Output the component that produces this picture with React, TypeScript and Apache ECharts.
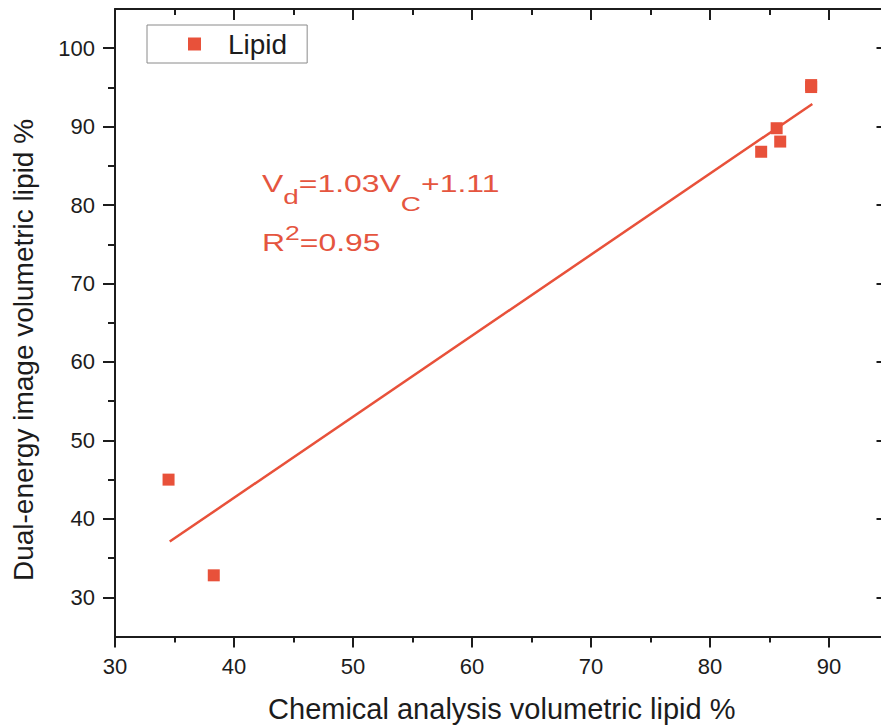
import React, { useEffect, useRef } from "react";
import * as echarts from "echarts";

const chemX = [34.5, 38.3, 84.3, 85.6, 85.9, 88.5, 88.5];
const imageY = [45.0, 32.8, 86.8, 89.8, 88.1, 95.3, 95.05];
const fitX = [34.6, 88.6];
const fitY = [37.1, 92.9];
const xMajor = [30, 40, 50, 60, 70, 80, 90];
const xMinor = [35, 45, 55, 65, 75, 85, 95];
const yMajor = [30, 40, 50, 60, 70, 80, 90, 100];
const yMinor = [35, 45, 55, 65, 75, 85, 95];

const RED = "#E8513A";
const TXT_RED = "#E5553F";
const INK = "#1c1c1c";
const FONT = "'Liberation Sans', Arial, sans-serif";

export default function App() {
  const ref = useRef<HTMLDivElement>(null);
  useEffect(() => {
    if (!ref.current) return;
    const chart = echarts.init(ref.current, null, { renderer: "svg" });
    const lineStyle = { color: INK, width: 2 };
    const baseX = { type: "value", min: 30, max: 95, gridIndex: 0, splitLine: { show: false } };
    const baseY = { type: "value", min: 25, max: 105, gridIndex: 0, splitLine: { show: false } };
    const option: any = {
      animation: false,
      backgroundColor: "#ffffff",
      textStyle: { fontFamily: FONT },
      grid: { left: 115, right: 11.5, top: 9, bottom: 91.5, containLabel: false, outerBoundsMode: "none" },
      legend: {
        left: 147,
        top: 25,
        padding: [5, 20, 5, 41],
        borderColor: "#8a8a8a",
        borderWidth: 1,
        itemWidth: 13,
        itemHeight: 13,
        icon: "rect",
        data: ["Lipid"],
        itemStyle: { opacity: 1 },
        textStyle: { fontSize: 28, color: INK, fontFamily: FONT, padding: [0, 0, 0, 22] },
      },
      xAxis: [
        {
          ...baseX,
          position: "bottom",
          axisLine: { lineStyle },
          axisTick: { customValues: xMajor, length: 11, lineStyle },
          axisLabel: { customValues: xMajor, fontSize: 22, color: INK, margin: 19, fontFamily: FONT },
          name: "Chemical analysis volumetric lipid %",
          nameLocation: "middle",
          nameGap: 58,
          nameTextStyle: { fontSize: 29, color: INK, fontFamily: FONT },
        },
        {
          ...baseX,
          position: "bottom",
          axisLine: { show: false },
          axisTick: { customValues: xMinor, length: 6, lineStyle },
          axisLabel: { show: false },
        },
        {
          ...baseX,
          position: "top",
          axisLine: { lineStyle },
          axisTick: { inside: true, customValues: xMajor, length: 11, lineStyle },
          axisLabel: { show: false },
        },
        {
          ...baseX,
          position: "top",
          axisLine: { show: false },
          axisTick: { inside: true, customValues: xMinor, length: 6, lineStyle },
          axisLabel: { show: false },
        },
      ],
      yAxis: [
        {
          ...baseY,
          position: "left",
          axisLine: { lineStyle },
          axisTick: { customValues: yMajor, length: 12, lineStyle },
          axisLabel: { customValues: yMajor, fontSize: 22, color: INK, margin: 20, fontFamily: FONT },
        },
        {
          ...baseY,
          position: "left",
          axisLine: { show: false },
          axisTick: { customValues: yMinor, length: 7, lineStyle },
          axisLabel: { show: false },
        },
        {
          ...baseY,
          position: "right",
          axisLine: { lineStyle },
          axisTick: { inside: true, customValues: yMajor, length: 12, lineStyle },
          axisLabel: { show: false },
        },
        {
          ...baseY,
          position: "right",
          axisLine: { show: false },
          axisTick: { inside: true, customValues: yMinor, length: 6, lineStyle },
          axisLabel: { show: false },
        },
      ],
      series: [
        {
          name: "Fit",
          type: "line",
          xAxisIndex: 0,
          yAxisIndex: 0,
          data: fitX.map((x, i) => [x, fitY[i]]),
          showSymbol: false,
          symbol: "none",
          lineStyle: { color: RED, width: 2.5 },
          z: 2,
        },
        {
          name: "Lipid",
          type: "scatter",
          xAxisIndex: 0,
          yAxisIndex: 0,
          data: chemX.map((x, i) => [x, imageY[i]]),
          symbol: "rect",
          symbolSize: 12,
          itemStyle: { color: RED, opacity: 1 },
          z: 3,
        },
      ],
      graphic: [
        {
          type: "text",
          x: 23.6,
          y: 350,
          rotation: Math.PI / 2,
          style: {
            text: "Dual-energy image volumetric lipid %",
            fontSize: 28,
            fontFamily: FONT,
            fill: INK,
            align: "center",
            verticalAlign: "middle",
          },
        },
        {
          type: "text",
          x: 262,
          y: 171.7,
          scaleX: 1.33,
          style: {
            text: "{m|V}{s1|d}{m|=1.03V}{s2|C}{m|+1.11}",
            fill: TXT_RED,
            fontFamily: FONT,
            verticalAlign: "top",
            align: "left",
            rich: {
              m: { fontSize: 24, fontFamily: FONT, fill: TXT_RED, verticalAlign: "top" },
              s1: { fontSize: 21, fontFamily: FONT, fill: TXT_RED, verticalAlign: "top", padding: [14.5, 0, 0, 0] },
              s2: { fontSize: 21, fontFamily: FONT, fill: TXT_RED, verticalAlign: "top", padding: [21.8, 0, 0, 0] },
            },
          },
        },
        {
          type: "text",
          x: 262,
          y: 222.8,
          scaleX: 1.33,
          style: {
            text: "{m|R}{p|2}{m|=0.95}",
            fill: TXT_RED,
            fontFamily: FONT,
            verticalAlign: "top",
            align: "left",
            rich: {
              m: { fontSize: 24, fontFamily: FONT, fill: TXT_RED, verticalAlign: "top", padding: [8.2, 0, 0, 0] },
              p: { fontSize: 20, fontFamily: FONT, fill: TXT_RED, verticalAlign: "top" },
            },
          },
        },
      ],
    };
    chart.setOption(option);
    return () => chart.dispose();
  }, []);
  return (
    <div style={{ position: "fixed", left: 0, top: 0, width: 881, height: 728, overflow: "hidden", background: "#fff" }}>
      <div ref={ref} style={{ width: 900, height: 728 }} />
    </div>
  );
}
